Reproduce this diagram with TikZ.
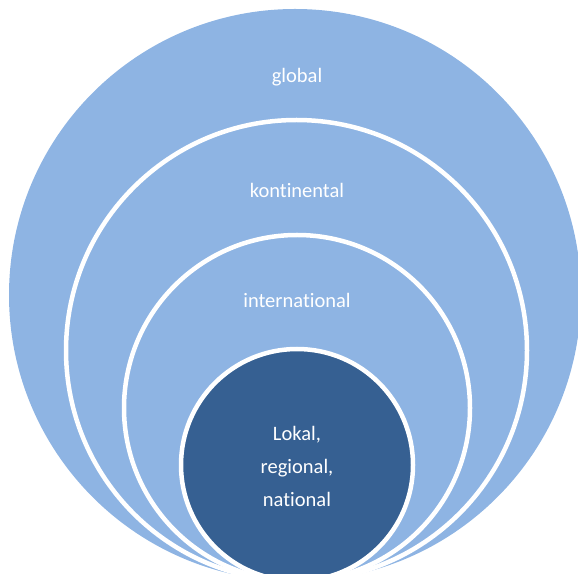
\documentclass[tikz,border=0pt]{standalone}
\usepackage{fontspec}
\setmainfont[Ligatures={NoCommon,NoRare}]{Carlito}
\definecolor{ringblue}{HTML}{8EB4E3}
\definecolor{coreblue}{HTML}{366092}
\tikzset{
  ring/.style={fill=ringblue, draw=white, line width=4.5pt},
  label/.style={text=white, font=\fontsize{20.5}{33}\selectfont, align=center}
}
\begin{document}
\begin{tikzpicture}[x=1pt, y=1pt]
            \useasboundingbox (0,0) rectangle (578,573);
            \clip (0,0) rectangle (578,573);
            \fill[ringblue] (295,278) circle (286pt);
            \draw[ring] (296.5,222.5) circle (230.5pt);
            \draw[ring] (297,165) circle (173pt);
            \draw[ring, fill=coreblue] (297,108) circle (116pt);
            \node[label] (global) at (297,496) {global};
            \node[label] (kontinental) at (297,383) {kontinental};
            \node[label] (international) at (297,273) {international};
            \node[label] (lokal) at (297,107) {Lokal,\\regional,\\national};
        \end{tikzpicture}
\end{document}
